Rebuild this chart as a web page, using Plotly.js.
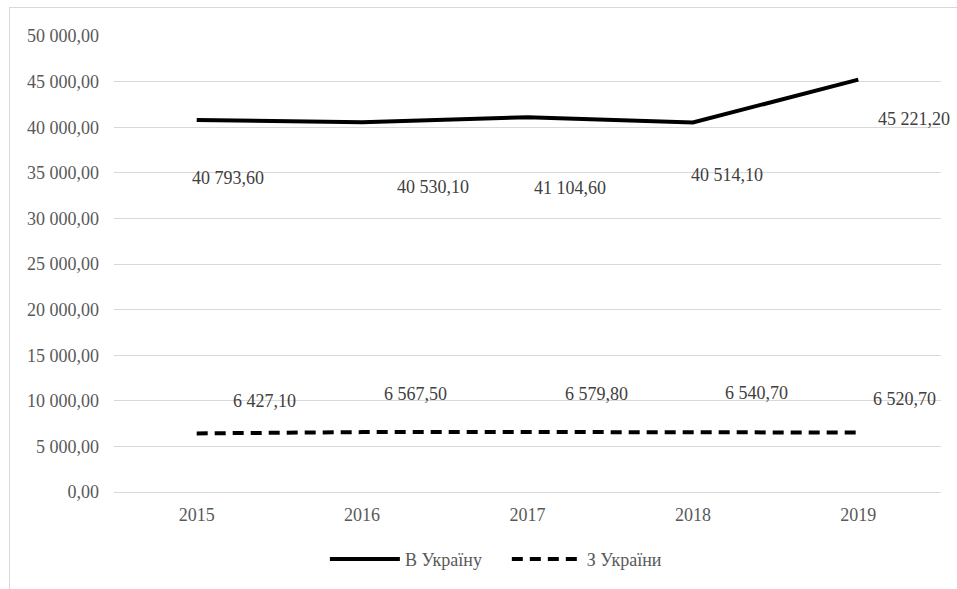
<!DOCTYPE html>
<html>
<head>
<meta charset="utf-8">
<script src="https://cdn.plot.ly/plotly-3.0.1.min.js"></script>
<style>
  html, body { margin: 0; padding: 0; background: #fff; }
  #wrap { position: relative; width: 957px; height: 589px; overflow: hidden; }
  #chart { position: absolute; left: 0; top: 0; width: 957px; height: 589px; }
  #frame { position: absolute; left: 9px; top: 7px; width: 1000px; height: 700px;
           border-left: 1px solid #d9d9d9; border-top: 1px solid #d9d9d9; pointer-events: none; }
</style>
</head>
<body>
<div id="wrap">
  <div id="chart"></div>
  <div id="frame"></div>
</div>
<script>
// ---- data ----
const years = ['2015', '2016', '2017', '2018', '2019'];
const intoUkraine = [40793.6, 40530.1, 41104.6, 40514.1, 45221.2];
const fromUkraine = [6427.1, 6567.5, 6579.8, 6540.7, 6520.7];
const seriesNames = ['В Україну', 'З України'];

// label pixel offsets (style/position, kept separate from data)
const intoOffX = [31, 71, 42, 34, 56];
const intoOffY = [-58, -65, -71, -52, -39];
const fromOffX = [68, 53, 69, 64, 46];
const fromOffY = [32, 38, 38, 39, 34];

function fmt(v) {
  const parts = v.toFixed(2).split('.');
  const intPart = parts[0].replace(/\B(?=(\d{3})+(?!\d))/g, ' ');
  return intPart + ',' + parts[1];
}

const FONT = '"Liberation Serif", "Times New Roman", Times, serif';

const traces = [
  {
    x: years, y: intoUkraine, name: seriesNames[0], type: 'scatter', mode: 'lines',
    line: { color: '#000000', width: 4 }, hoverinfo: 'skip', legend: 'legend'
  },
  {
    x: years, y: fromUkraine, name: seriesNames[1], type: 'scatter', mode: 'lines',
    line: { color: '#000000', width: 4, dash: '11px,7px' }, hoverinfo: 'skip', legend: 'legend2'
  }
];

const annotations = [];
years.forEach((yr, i) => {
  annotations.push({
    x: i, y: intoUkraine[i], xref: 'x', yref: 'y', text: fmt(intoUkraine[i]),
    showarrow: false, xanchor: 'center', yanchor: 'middle',
    xshift: intoOffX[i], yshift: intoOffY[i],
    font: { family: FONT, size: 18, color: '#404040' }
  });
  annotations.push({
    x: i, y: fromUkraine[i], xref: 'x', yref: 'y', text: fmt(fromUkraine[i]),
    showarrow: false, xanchor: 'center', yanchor: 'middle',
    xshift: fromOffX[i], yshift: fromOffY[i],
    font: { family: FONT, size: 18, color: '#404040' }
  });
});

const legendBase = {
  orientation: 'h', xanchor: 'left', y: -0.145, yanchor: 'middle',
  font: { family: FONT, size: 18, color: '#595959' },
  itemwidth: 70, bgcolor: 'rgba(0,0,0,0)'
};

const layout = {
  width: 957, height: 589,
  margin: { l: 114, r: 16, t: 36, b: 96 },
  paper_bgcolor: 'rgba(0,0,0,0)', plot_bgcolor: '#ffffff',
  separators: ', ',
  font: { family: FONT, size: 18, color: '#595959' },
  showlegend: true,
  legend: Object.assign({}, legendBase, { x: 0.255 }),
  legend2: Object.assign({}, legendBase, { x: 0.475 }),
  xaxis: {
    type: 'category', range: [-0.5, 4.5], showgrid: false, zeroline: false,
    showline: false, ticks: '', ticklabelstandoff: 10,
    tickfont: { family: FONT, size: 18, color: '#595959' }, fixedrange: true
  },
  yaxis: {
    range: [0, 50000], dtick: 5000, tick0: 0, tickformat: ',.2f',
    showgrid: true, gridcolor: '#d9d9d9', gridwidth: 1,
    zeroline: true, zerolinecolor: '#d9d9d9', zerolinewidth: 1,
    showline: false, ticks: '', ticklabelstandoff: 14,
    tickfont: { family: FONT, size: 18, color: '#595959' }, fixedrange: true
  },
  annotations: annotations
};

Plotly.newPlot('chart', traces, layout, { staticPlot: true, displayModeBar: false });
</script>
</body>
</html>
